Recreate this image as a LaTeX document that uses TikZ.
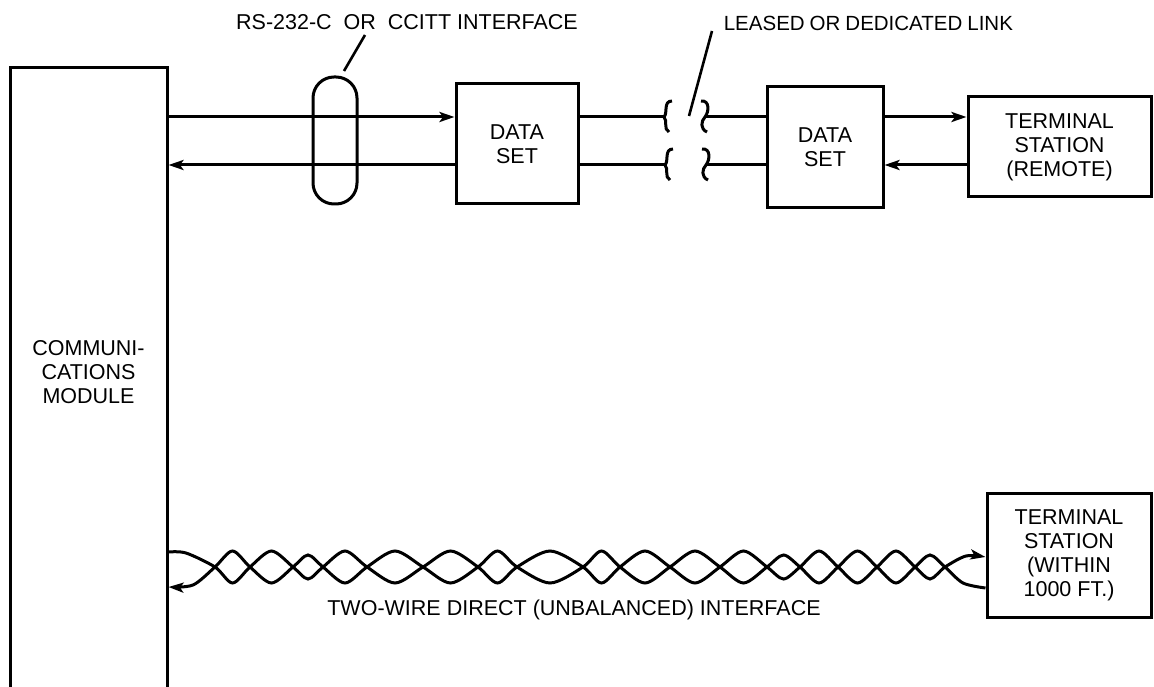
\documentclass[tikz,border=0pt]{standalone}
\usepackage{fontspec}
\setmainfont{Liberation Sans}
\usetikzlibrary{arrows.meta,calc}
\begin{document}
\begin{tikzpicture}[x=1pt,y=-1pt,line width=3pt,
  every node/.style={font=\fontsize{21.5}{24}\selectfont,align=center},
  box/.style={draw,line width=3pt,inner sep=0pt},
  arr/.style={-{Stealth[length=15pt,width=10pt,inset=3.5pt]}},
  pointer/.style={line width=2.6pt}]
\useasboundingbox (0,0) rectangle (1154,687);
\clip (0,0) rectangle (1154,687);
% boxes
\node[box,minimum width=157pt,minimum height=640pt] (mod) at (88.5,388) {};
\node (modt) at (88.5,372) {COMMUNI-\\CATIONS\\MODULE};
\node[box,minimum width=122pt,minimum height=120pt] (ds1) at (517,144) {DATA\\SET};
\node[box,minimum width=116pt,minimum height=121pt] (ds2) at (825,147.5) {DATA\\SET};
\node[box,minimum width=183pt,minimum height=100pt] (rem) at (1059.5,147) {TERMINAL\\STATION\\(REMOTE)};
\node[box,minimum width=164pt,minimum height=124pt] (loc) at (1069,555) {TERMINAL\\STATION\\(WITHIN\\1000 FT.)};
\node[draw,rounded corners=21pt,minimum width=44pt,minimum height=127pt,inner sep=0pt] (oval) at (335,140.5) {};
% labels
\node (rs) at (407,22) {RS-232-C\ \ OR\ \ CCITT INTERFACE};
\node[anchor=west,font=\fontsize{20.5}{24}\selectfont] (ll) at (719,23) {LEASED\kern5pt{}OR\kern5pt{}DEDICATED\kern5pt{}LINK};
\node (tw) at (574,610) {TWO-WIRE DIRECT (UNBALANCED) INTERFACE};
% pointers
\coordinate (rsa) at (344,71); \coordinate (rsb) at (365,35);
\draw[pointer] (rsa) -- (rsb);
\coordinate (lla) at (689,116); \coordinate (llb) at (712,31);
\draw[pointer] (lla) -- (llb);
% horizontal links
\coordinate (y1) at (0,117); \coordinate (y2) at (0,165);
\draw[arr] (mod.east |- y1) -- (ds1.west |- y1);
\draw[arr] (ds1.west |- y2) -- (mod.east |- y2);
\coordinate (bl1) at (664,117); \coordinate (br1) at (705,117);
\coordinate (bl2) at (665,165); \coordinate (br2) at (706,165);
\draw (ds1.east |- y1) -- (bl1);
\draw (ds1.east |- y2) -- (bl2);
\draw (br1) -- (ds2.west |- y1);
\draw (br2) -- (ds2.west |- y2);
\foreach \b in {bl1,bl2}{
  \draw ([shift={(8,-16)}]\b) .. controls ([shift={(-1,-16)}]\b) and ([shift={(4,-4)}]\b) .. (\b)
        .. controls ([shift={(4,4)}]\b) and ([shift={(-1,12)}]\b) .. ([shift={(5,15)}]\b);
}
\foreach \b in {br1,br2}{
  \draw ([shift={(-4,-16)}]\b) .. controls ([shift={(5,-17)}]\b) and ([shift={(4,-5)}]\b) .. (\b)
        .. controls ([shift={(-4,4)}]\b) and ([shift={(-5,12)}]\b) .. ([shift={(2,15)}]\b);
}
\draw[arr] (ds2.east |- y1) -- (rem.west |- y1);
\draw[arr] (rem.west |- y2) -- (ds2.east |- y2);
% twisted pair
\coordinate (wa) at (0,552); \coordinate (wb) at (0,557);
\coordinate (wc) at (0,588); \coordinate (wd) at (0,587);
\draw[arr] plot[smooth] coordinates {(mod.east |- wa) (186,553) (215,567) (232.5,583) (250,567) (271.5,551) (293,567) (308,579) (323,567) (345,551) (367,567) (395,583) (423,567) (450.5,551) (478,567) (497.5,583) (517,567) (550,551) (583,567) (601.5,583) (620,567) (645,551) (670,567) (695,583) (720,567) (743.5,551) (767,567) (783.5,579) (800,567) (819,551) (838,567) (857.5,583) (877,567) (896,551) (915,567) (930,579) (945,567) (966,556) (loc.west |- wb)};
\draw[arr] plot[smooth] coordinates {(loc.west |- wc) (963,583) (945,567) (930,555) (915,567) (896,583) (877,567) (857.5,551) (838,567) (819,583) (800,567) (783.5,555) (767,567) (743.5,583) (720,567) (695,551) (670,567) (645,583) (620,567) (601.5,551) (583,567) (550,583) (517,567) (497.5,551) (478,567) (450.5,583) (423,567) (395,551) (367,567) (345,583) (323,567) (308,555) (293,567) (271.5,583) (250,567) (232.5,551) (215,567) (193,585) (mod.east |- wd)};
\end{tikzpicture}
\end{document}
